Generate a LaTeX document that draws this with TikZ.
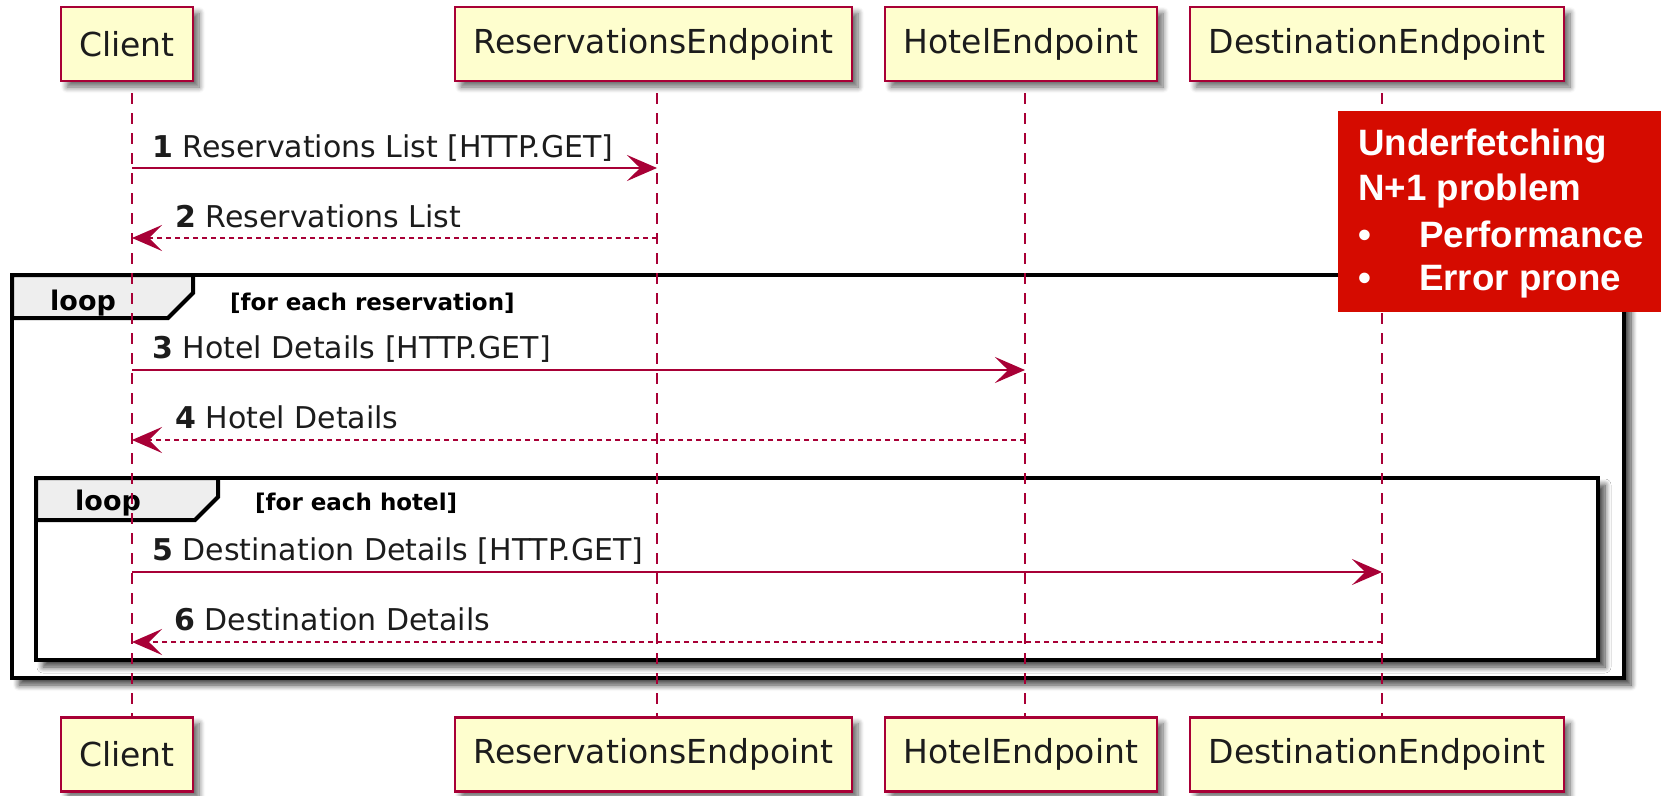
\documentclass[tikz,border=0pt]{standalone}
\usepackage{fontspec}
\setmainfont{DejaVu Sans}
\newfontfamily\notefont{Liberation Sans}
\usetikzlibrary{arrows.meta,shadows.blur}
\definecolor{umlred}{HTML}{A80036}
\definecolor{umlfill}{HTML}{FEFECE}
\definecolor{tabfill}{HTML}{EEEEEE}
\definecolor{notered}{HTML}{D50B00}
\definecolor{umltext}{HTML}{1C1C1C}
\tikzset{
  participant/.style={draw=umlred, fill=umlfill, line width=2.2pt, minimum height=74pt, inner sep=0pt,
    text=umltext, font=\fontsize{33}{40}\selectfont,
    blur shadow={shadow xshift=6pt, shadow yshift=-6pt, shadow blur radius=6pt, shadow blur steps=8, shadow opacity=60}},
  lifeline/.style={draw=umlred, line width=2pt, dash pattern=on 11pt off 9pt},
  req/.style={draw=umlred, line width=2pt, -{Stealth[length=30pt,width=26pt,inset=13pt]}},
  resp/.style={req, dash pattern=on 5pt off 4pt},
  msglabel/.style={anchor=base west, inner sep=0pt, text=umltext, font=\fontsize{30}{36}\selectfont},
  frame/.style={draw=black, line width=4pt, fill=white,
    blur shadow={shadow xshift=7pt, shadow yshift=-7pt, shadow blur radius=6pt, shadow blur steps=8, shadow opacity=75}},
  tab/.style={draw=black, line width=4pt, fill=tabfill, line join=miter},
  looplabel/.style={anchor=base west, inner sep=0pt, font=\fontsize{27}{32}\selectfont\bfseries},
  condlabel/.style={anchor=base west, inner sep=0pt, font=\fontsize{23}{28}\selectfont\bfseries},
  notetext/.style={anchor=base west, inner sep=0pt, text=white, font=\notefont\bfseries\fontsize{36.7}{44}\selectfont},
}
\begin{document}
\begin{tikzpicture}[x=1pt, y=-1pt]
\useasboundingbox (0,0) rectangle (1661,795);

% loop frames
\path[frame] (12,275) rectangle (1624,678);
\draw[tab] (12,275) -- (193,275) -- (193,293) -- (168,318) -- (12,318) -- cycle;
\node[looplabel] (loop1) at (50,310) {loop};
\node[condlabel] (cond1) at (230,310) {[for each reservation]};

\path[frame] (36,478) rectangle (1598,660);
\draw[tab] (36,478) -- (218,478) -- (218,497) -- (195,520) -- (36,520) -- cycle;
\node[looplabel] (loop2) at (75,510) {loop};
\node[condlabel] (cond2) at (255,510) {[for each hotel]};

% participants
\node[participant, minimum width=132pt] (cT) at (127,44) {Client};
\node[participant, minimum width=397pt] (rT) at (653.5,44) {ReservationsEndpoint};
\node[participant, minimum width=272pt] (hT) at (1021,44) {HotelEndpoint};
\node[participant, minimum width=374pt] (dT) at (1377,44) {DestinationEndpoint};
\node[participant, minimum width=132pt] (cB) at (127,754.5) {Client};
\node[participant, minimum width=397pt] (rB) at (653.5,754.5) {ReservationsEndpoint};
\node[participant, minimum width=272pt] (hB) at (1021,754.5) {HotelEndpoint};
\node[participant, minimum width=374pt] (dB) at (1377,754.5) {DestinationEndpoint};

% lifeline x positions
\coordinate (xC) at (132,0);
\coordinate (xR) at (657,0);
\coordinate (xH) at (1025,0);
\coordinate (xD) at (1382,0);

\draw[lifeline] (xC |- 0,93) -- (xC |- cB.north);
\draw[lifeline] (xR |- 0,93) -- (xR |- rB.north);
\draw[lifeline] (xH |- 0,93) -- (xH |- hB.north);
\draw[lifeline] (xD |- 0,93) -- (xD |- dB.north);

% message rows
\coordinate (y1) at (0,168);
\coordinate (y2) at (0,238);
\coordinate (y3) at (0,370);
\coordinate (y4) at (0,440);
\coordinate (y5) at (0,572);
\coordinate (y6) at (0,642);

\draw[req]  (xC |- y1) -- (xR |- y1);
\node[msglabel] (l1) at (152,157) {\textbf{1} Reservations List [HTTP.GET]};
\draw[resp] (xR |- y2) -- (xC |- y2);
\node[msglabel] (l2) at (175,227) {\textbf{2} Reservations List};
\draw[req]  (xC |- y3) -- (xH |- y3);
\node[msglabel] (l3) at (152,358) {\textbf{3} Hotel Details [HTTP.GET]};
\draw[resp] (xH |- y4) -- (xC |- y4);
\node[msglabel] (l4) at (175,428) {\textbf{4} Hotel Details};
\draw[req]  (xC |- y5) -- (xD |- y5);
\node[msglabel] (l5) at (152,560) {\textbf{5} Destination Details [HTTP.GET]};
\draw[resp] (xD |- y6) -- (xC |- y6);
\node[msglabel] (l6) at (174,630) {\textbf{6} Destination Details};

% red note
\fill[notered] (1338,111) rectangle (1661,312);
\node[notetext] (n1) at (1358,155) {Underfetching};
\node[notetext] (n2) at (1358,200) {N+1 problem};
\node[notetext] (n3) at (1358,247) {\makebox[61pt][l]{•}Performance};
\node[notetext] (n4) at (1358,290) {\makebox[61pt][l]{•}Error prone};
\end{tikzpicture}
\end{document}
